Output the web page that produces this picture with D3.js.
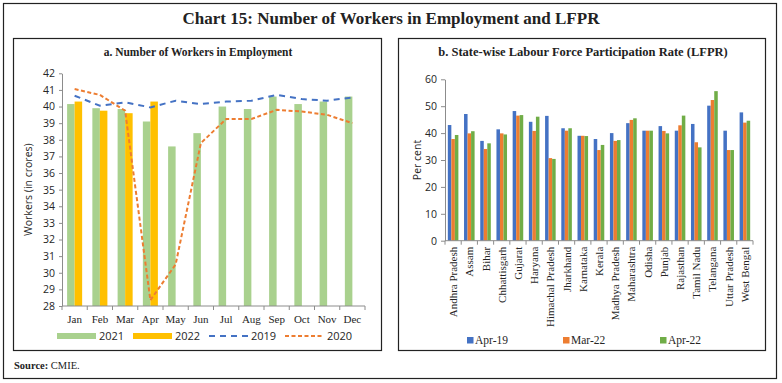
<!DOCTYPE html>
<html>
<head>
<meta charset="utf-8">
<script src="https://cdn.jsdelivr.net/npm/d3@7"></script>
<style>
html,body{margin:0;padding:0;background:#fff;}
svg{display:block;}
</style>
</head>
<body>
<svg id="chart" width="782" height="383"></svg>
<script>
// ---------- Data ----------
const months = ["Jan","Feb","Mar","Apr","May","Jun","Jul","Aug","Sep","Oct","Nov","Dec"];
const workers2021 = [40.15, 39.9, 39.85, 39.1, 37.6, 38.4, 40.0, 39.85, 40.6, 40.15, 40.3, 40.6];
const workers2022 = [40.3, 39.75, 39.6, 40.3];
const workers2019 = [40.65, 40.05, 40.25, 39.95, 40.35, 40.15, 40.3, 40.35, 40.7, 40.45, 40.35, 40.55];
const workers2020 = [41.05, 40.7, 39.75, 28.35, 30.5, 37.8, 39.25, 39.25, 39.8, 39.7, 39.5, 39.0];
const leftTicks = [28,29,30,31,32,33,34,35,36,37,38,39,40,41,42];

const states = ["Andhra Pradesh","Assam","Bihar","Chhattisgarh","Gujarat","Haryana","Himachal Pradesh","Jharkhand","Karnataka","Kerala","Madhya Pradesh","Maharashtra","Odisha","Punjab","Rajasthan","Tamil Nadu","Telangana","Uttar Pradesh","West Bengal"];
const lfprApr19 = [43.0, 47.1, 37.1, 41.4, 48.2, 44.2, 46.4, 41.8, 39.0, 37.8, 40.0, 43.7, 40.9, 42.6, 40.9, 43.4, 50.2, 40.9, 47.7];
const lfprMar22 = [37.8, 39.9, 34.1, 39.9, 46.5, 40.8, 30.7, 40.9, 39.0, 33.7, 37.1, 44.9, 40.9, 40.8, 42.9, 36.6, 52.3, 33.7, 43.9];
const lfprApr22 = [39.3, 40.7, 36.2, 39.5, 46.7, 46.1, 30.4, 41.8, 38.9, 35.6, 37.4, 45.5, 40.9, 39.9, 46.5, 34.7, 55.6, 33.7, 44.6];
const rightTicks = [0,10,20,30,40,50,60];
const rightSeries = ["Apr-19","Mar-22","Apr-22"];

// ---------- Styles ----------
const C = {
  g21:"#A9D18E", y22:"#FFC000", b19:"#4472C4", o20:"#ED7D31",
  rb:"#4472C4", ro:"#ED7D31", rg:"#70AD47", axis:"#8c8c8c", text:"#262626"
};
const serif = "'Liberation Serif','DejaVu Serif',serif";
const sans = "'Open Sans','Noto Sans',sans-serif";

const svg = d3.select("#chart");

// Frames
svg.append("rect").attr("x",3.5).attr("y",3.5).attr("width",773).attr("height",375)
  .attr("fill","none").attr("stroke","#222").attr("stroke-width",1.2);
svg.append("rect").attr("x",13.5).attr("y",38.5).attr("width",368).attr("height",312)
  .attr("fill","none").attr("stroke","#222").attr("stroke-width",1.2);
svg.append("rect").attr("x",398.5).attr("y",38.5).attr("width",367).attr("height",312)
  .attr("fill","none").attr("stroke","#222").attr("stroke-width",1.2);

// Titles
svg.append("text").attr("x",391).attr("y",24).attr("text-anchor","middle")
  .attr("font-family",serif).attr("font-size",17).attr("font-weight","bold").attr("fill","#222")
  .text("Chart 15: Number of Workers in Employment and LFPR");
svg.append("text").attr("x",198).attr("y",56).attr("text-anchor","middle")
  .attr("font-family",serif).attr("font-size",11.5).attr("font-weight","bold").attr("fill","#222")
  .text("a. Number of Workers in Employment");
svg.append("text").attr("x",583).attr("y",56).attr("text-anchor","middle")
  .attr("font-family",serif).attr("font-size",12.5).attr("font-weight","bold").attr("fill","#222")
  .text("b. State-wise Labour Force Participation Rate (LFPR)");

// Source
const src = svg.append("text").attr("x",14).attr("y",369).attr("font-family",serif).attr("font-size",10.5).attr("fill","#222");
src.append("tspan").attr("font-weight","bold").text("Source: ");
src.append("tspan").text("CMIE.");

// ---------- Left chart ----------
const L = {x0:62, x1:365, y0:306, y1:73.3};
const xL = d3.scaleBand().domain(months).range([L.x0, L.x1]).padding(0);
const xLsub = d3.scaleBand().domain(["2021","2022"]).range([0, xL.bandwidth()]).paddingInner(0).paddingOuter(0.68);
const yL = d3.scaleLinear().domain([28,42]).range([L.y0, L.y1]);

const gL = svg.append("g");
// bars
gL.selectAll(".b21").data(workers2021).enter().append("rect")
  .attr("x",(d,i)=>xL(months[i])+xLsub("2021")).attr("width",xLsub.bandwidth())
  .attr("y",d=>yL(d)).attr("height",d=>yL(28)-yL(d)).attr("fill",C.g21);
gL.selectAll(".b22").data(workers2022).enter().append("rect")
  .attr("x",(d,i)=>xL(months[i])+xLsub("2022")).attr("width",xLsub.bandwidth())
  .attr("y",d=>yL(d)).attr("height",d=>yL(28)-yL(d)).attr("fill",C.y22);

// lines
const lineL = d3.line().x((d,i)=>xL(months[i])+xL.bandwidth()/2).y(d=>yL(d));
gL.append("path").datum(workers2019).attr("d",lineL).attr("fill","none")
  .attr("stroke",C.b19).attr("stroke-width",2).attr("stroke-dasharray","6,5");
gL.append("path").datum(workers2020).attr("d",lineL).attr("fill","none")
  .attr("stroke",C.o20).attr("stroke-width",2).attr("stroke-dasharray","4,2.5");

// y axis
const yAxisL = gL.append("g").attr("transform",`translate(${L.x0},0)`)
  .call(d3.axisLeft(yL).tickValues(leftTicks).tickSize(3).tickSizeOuter(0).tickFormat(d3.format("d")));
yAxisL.select(".domain").attr("stroke",C.axis);
yAxisL.selectAll(".tick line").attr("stroke",C.axis);
yAxisL.selectAll("text").attr("font-family",sans).attr("font-size",10.5).attr("fill",C.text).attr("dx",-1);

// x axis
const xAxisL = gL.append("g").attr("transform",`translate(0,${L.y0})`);
xAxisL.append("line").attr("x1",L.x0).attr("x2",L.x1).attr("y1",0).attr("y2",0).attr("stroke",C.axis);
const bLeft = months.map(m=>xL(m)).concat([L.x1]);
xAxisL.selectAll(".tk").data(bLeft).enter().append("line")
  .attr("x1",d=>d).attr("x2",d=>d).attr("y1",0).attr("y2",4).attr("stroke",C.axis);
xAxisL.selectAll(".lbl").data(months).enter().append("text")
  .attr("x",d=>xL(d)+xL.bandwidth()/2).attr("y",17).attr("text-anchor","middle")
  .attr("font-family",serif).attr("font-size",11).attr("fill",C.text).text(d=>d);

// y label
svg.append("text").attr("transform",`translate(32,${(L.y0+L.y1)/2}) rotate(-90)`)
  .attr("text-anchor","middle").attr("font-family",sans).attr("font-size",10.5).attr("fill",C.text)
  .text("Workers (in crores)");

// legend left
const legL = svg.append("g");
const legItems = [
  {x:57, label:"2021", type:"bar", color:C.g21},
  {x:133, label:"2022", type:"bar", color:C.y22},
  {x:209, label:"2019", type:"line", color:C.b19, dash:"6,5"},
  {x:285, label:"2020", type:"line", color:C.o20, dash:"4,2.5"}
];
legItems.forEach(it=>{
  if(it.type==="bar"){
    legL.append("rect").attr("x",it.x).attr("y",333).attr("width",39).attr("height",6).attr("fill",it.color);
  } else {
    legL.append("line").attr("x1",it.x).attr("x2",it.x+39).attr("y1",336).attr("y2",336)
      .attr("stroke",it.color).attr("stroke-width",2).attr("stroke-dasharray",it.dash);
  }
  legL.append("text").attr("x",it.x+42).attr("y",340).attr("font-family",sans).attr("font-size",11)
    .attr("fill",C.text).text(it.label);
});

// ---------- Right chart ----------
const R = {x0:445, x1:753, y0:240.7, y1:79.3};
const xR = d3.scaleBand().domain(states).range([R.x0, R.x1]).padding(0);
const xRsub = d3.scaleBand().domain(rightSeries).range([0, xR.bandwidth()]).paddingInner(0).paddingOuter(0.8);
const yR = d3.scaleLinear().domain([0,60]).range([R.y0, R.y1]);
const rColors = {"Apr-19":C.rb, "Mar-22":C.ro, "Apr-22":C.rg};
const rData = {"Apr-19":lfprApr19, "Mar-22":lfprMar22, "Apr-22":lfprApr22};

const gR = svg.append("g");
rightSeries.forEach(s=>{
  gR.selectAll(".r"+s).data(rData[s]).enter().append("rect")
    .attr("x",(d,i)=>xR(states[i])+xRsub(s)).attr("width",xRsub.bandwidth())
    .attr("y",d=>yR(d)).attr("height",d=>yR(0)-yR(d)).attr("fill",rColors[s]);
});

const yAxisR = gR.append("g").attr("transform",`translate(${R.x0},0)`)
  .call(d3.axisLeft(yR).tickValues(rightTicks).tickSize(4).tickSizeOuter(0));
yAxisR.select(".domain").attr("stroke",C.axis);
yAxisR.selectAll(".tick line").attr("stroke",C.axis);
yAxisR.selectAll("text").attr("font-family",sans).attr("font-size",10.5).attr("fill",C.text).attr("dx",-1);

const xAxisR = gR.append("g").attr("transform",`translate(0,${R.y0})`);
xAxisR.append("line").attr("x1",R.x0).attr("x2",R.x1).attr("y1",0).attr("y2",0).attr("stroke",C.axis);
const bRight = states.map(s=>xR(s)).concat([R.x1]);
xAxisR.selectAll(".tk").data(bRight).enter().append("line")
  .attr("x1",d=>d).attr("x2",d=>d).attr("y1",0).attr("y2",4).attr("stroke",C.axis);
xAxisR.selectAll(".lbl").data(states).enter().append("text")
  .attr("transform",d=>`translate(${xR(d)+xR.bandwidth()/2+4},6) rotate(-90)`)
  .attr("text-anchor","end").attr("font-family",serif).attr("font-size",11).attr("fill",C.text).text(d=>d);

svg.append("text").attr("transform",`translate(421,${(R.y0+R.y1)/2}) rotate(-90)`)
  .attr("text-anchor","middle").attr("font-family",sans).attr("font-size",10.5).attr("fill",C.text)
  .text("Per cent");

// legend right
const legR = svg.append("g");
const rLegX = [467, 563, 660];
rightSeries.forEach((s,i)=>{
  legR.append("rect").attr("x",rLegX[i]).attr("y",337).attr("width",6.5).attr("height",6.5).attr("fill",rColors[s]);
  legR.append("text").attr("x",rLegX[i]+8).attr("y",344).attr("font-family",serif).attr("font-size",11.5)
    .attr("fill",C.text).text(s);
});
</script>
</body>
</html>
